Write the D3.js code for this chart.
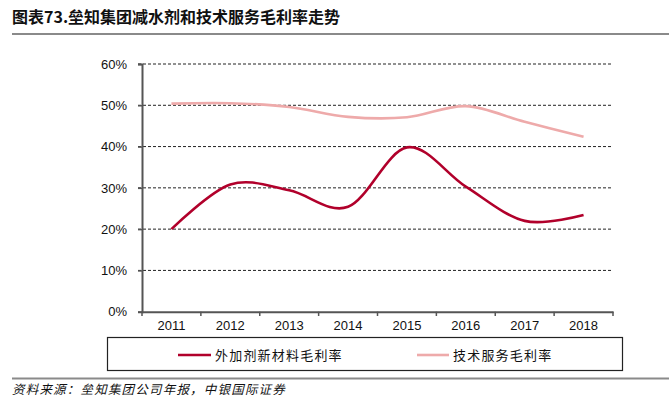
<!DOCTYPE html>
<html><head><meta charset="utf-8">
<script src="https://cdn.jsdelivr.net/npm/d3@7/dist/d3.min.js"></script>
<style>body{margin:0;background:#fff}svg{display:block}</style>
</head><body>
<svg id="c" width="669" height="412"></svg>
<script>
const years = ["2011","2012","2013","2014","2015","2016","2017","2018"];
const admixture = [20.0, 30.8, 29.4, 25.4, 39.8, 30.3, 22.0, 23.4];
const service = [50.4, 50.5, 49.6, 47.2, 47.1, 49.8, 46.0, 42.4];
const yTicks = [0, 10, 20, 30, 40, 50, 60];
const seriesNames = ["外加剂新材料毛利率", "技术服务毛利率"];
const title = "图表73.垒知集团减水剂和技术服务毛利率走势";
const source = "资料来源：垒知集团公司年报，中银国际证券";

const svg = d3.select("#c");
const cjk = "'Noto Sans CJK SC','Noto Sans',sans-serif";
const colors = ["#b1002b", "#eeaaaa"];

// title
svg.append("text").attr("x", 12).attr("y", 23).text(title)
  .attr("font-family", cjk).attr("font-weight", "bold").attr("font-size", 16).attr("fill", "#111");
svg.append("line").attr("x1", 12).attr("x2", 669).attr("y1", 34).attr("y2", 34)
  .attr("stroke", "#8a8a8a").attr("stroke-width", 2);

const x = d3.scaleBand().domain(years).range([142, 613]);
const y = d3.scaleLinear().domain([0, 60]).range([311.7, 64]);

// gridlines
svg.append("g").selectAll("line").data(yTicks.filter(d => d > 0)).join("line")
  .attr("x1", 138).attr("x2", 613).attr("y1", d => y(d)).attr("y2", d => y(d))
  .attr("stroke", "#222").attr("stroke-width", 1).attr("stroke-dasharray", "3,2");

// y axis
const yAxis = svg.append("g").attr("transform", "translate(142,0)")
  .call(d3.axisLeft(y).tickValues(yTicks).tickSize(4).tickPadding(11).tickFormat(d => d + "%"));
yAxis.select(".domain").attr("stroke", "#555").attr("stroke-width", 2);
yAxis.selectAll(".tick line").attr("stroke", "#555").attr("stroke-width", 1.5);
yAxis.selectAll("text").attr("font-family", "'Liberation Sans',Arial,sans-serif").attr("font-size", 13).attr("fill", "#111");

// x axis
const xAxis = svg.append("g").attr("transform", "translate(0,311.7)")
  .call(d3.axisBottom(x).tickSize(0).tickPadding(9));
xAxis.select(".domain").attr("stroke", "#555").attr("stroke-width", 2);
xAxis.selectAll("text").attr("font-family", "'Liberation Sans',Arial,sans-serif").attr("font-size", 13).attr("fill", "#111");
// boundary ticks
const bounds = years.map(d => x(d)).concat([x.range()[1]]);
svg.append("g").selectAll("line").data(bounds).join("line")
  .attr("x1", d => d).attr("x2", d => d).attr("y1", 311.7).attr("y2", 316)
  .attr("stroke", "#555").attr("stroke-width", 1.5);

// lines
const cx = d => x(d) + x.bandwidth() / 2;
const line = d3.line().x((d, i) => cx(years[i])).y(d => y(d)).curve(d3.curveCatmullRom.alpha(0));
svg.append("path").datum(service).attr("d", line).attr("fill", "none")
  .attr("stroke", colors[1]).attr("stroke-width", 2.6);
svg.append("path").datum(admixture).attr("d", line).attr("fill", "none")
  .attr("stroke", colors[0]).attr("stroke-width", 2.6);

// legend
svg.append("rect").attr("x", 107.5).attr("y", 337.5).attr("width", 515).attr("height", 33)
  .attr("fill", "none").attr("stroke", "#222").attr("stroke-width", 1.2);
const leg = [{x1: 178, x2: 211, tx: 215}, {x1: 417, x2: 449, tx: 453}];
leg.forEach((l, i) => {
  svg.append("line").attr("x1", l.x1).attr("x2", l.x2).attr("y1", 355).attr("y2", 355)
    .attr("stroke", colors[i]).attr("stroke-width", 2.6);
  svg.append("text").attr("x", l.tx).attr("y", 360).text(seriesNames[i])
    .attr("font-family", cjk).attr("font-size", 13).attr("letter-spacing", 1.2).attr("fill", "#111");
});

// bottom separator and source
svg.append("line").attr("x1", 12).attr("x2", 669).attr("y1", 378.5).attr("y2", 378.5)
  .attr("stroke", "#8a8a8a").attr("stroke-width", 2);
svg.append("text").attr("x", 12).attr("y", 394).text(source)
  .attr("font-family", cjk).attr("font-style", "italic").attr("font-size", 12.5).attr("letter-spacing", 1.2).attr("fill", "#111");
</script>
</body></html>
